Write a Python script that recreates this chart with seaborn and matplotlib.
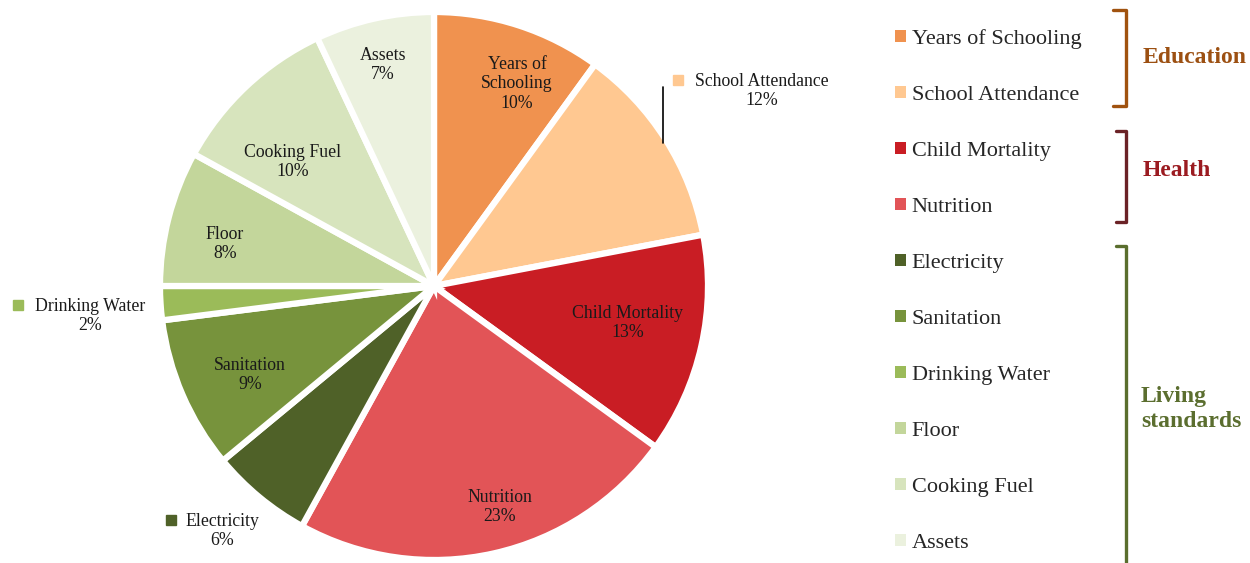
import matplotlib
matplotlib.use("Agg")
import matplotlib.pyplot as plt
import seaborn as sns
from matplotlib.patches import Patch
from matplotlib.lines import Line2D

sns.set_style("white")
plt.rcParams['font.family'] = ['Liberation Serif', 'DejaVu Serif']

# ---- data ----
categories = ["Years of Schooling", "School Attendance", "Child Mortality", "Nutrition",
              "Electricity", "Sanitation", "Drinking Water", "Floor", "Cooking Fuel", "Assets"]
values = [10, 12, 13, 23, 6, 9, 2, 8, 10, 7]
colors = ["#F0924F", "#FFC891", "#C91D24", "#E25457", "#4F6128",
          "#77933C", "#9BBB59", "#C3D69B", "#D7E4BD", "#EBF1DE"]
slice_labels = ["Years of\nSchooling", "School Attendance", "Child Mortality", "Nutrition",
                "Electricity", "Sanitation", "Drinking Water", "Floor", "Cooking Fuel", "Assets"]
groups = ["Education", "Health", "Living\nstandards"]
group_colors = ["#9C5012", "#9B1B21", "#5B6E2F"]
bracket_colors = ["#A0520F", "#6B2226", "#5A6E2E"]

W, H = 1250, 563
fig = plt.figure(figsize=(W / 100, H / 100), dpi=100)

cx, cy, R = 434, 286, 274
ax = fig.add_axes([(cx - R) / W, (H - cy - R) / H, 2 * R / W, 2 * R / H])
wedges, _ = ax.pie(values, colors=colors, startangle=90, counterclock=False, radius=1,
                   wedgeprops=dict(edgecolor="white", linewidth=4.5))
ax.set_xlim(-1, 1)
ax.set_ylim(-1, 1)
ax.axis("off")


def d(px, py):
    return (px - cx) / R, (cy - py) / R


fs = 12.8
# label positions (pixel coords of text centre)
inside = {0: (517, 84), 2: (628, 323), 3: (500, 507), 5: (250, 375),
          7: (225, 244), 8: (293, 162), 9: (383, 65)}
for i, (px, py) in inside.items():
    x, y = d(px, py)
    ax.text(x, y, f"{slice_labels[i]}\n{values[i]}%", ha="center", va="center",
            fontsize=fs, color="#1a1a1a", linespacing=1.22)

outside = {1: (762, 91, 678), 6: (90, 316, 18), 4: (222, 531, 171)}
for i, (px, py, sx) in outside.items():
    x, y = d(px, py)
    ax.text(x, y, f"{slice_labels[i]}\n{values[i]}%", ha="center", va="center",
            fontsize=fs, color="#1a1a1a", linespacing=1.22)
    mx, my = d(sx, py - 11)
    ax.plot([mx], [my], marker="s", markersize=7, color=colors[i], clip_on=False)

# leader line for School Attendance
x0, y0 = d(663, 87)
x1, y1 = d(663, 143)
ax.plot([x0, x1], [y0, y1], color="black", lw=1.2, clip_on=False)

# legend
handles = [Patch(facecolor=c, edgecolor="none") for c in colors]
fig.legend(handles, categories, loc="upper left", bbox_to_anchor=(895 / W, 1 - 29 / H),
           frameon=False, fontsize=16, handlelength=0.5, handleheight=0.5,
           handletextpad=0.25, labelspacing=1.655, borderpad=0, borderaxespad=0)

# brackets
def bracket(y_top, y_bot, x_in, x_out, color, bottom=True):
    pts_x = [x_in, x_out, x_out] + ([x_in] if bottom else [])
    pts_y = [y_top, y_top, y_bot] + ([y_bot] if bottom else [])
    fig.add_artist(Line2D([p / W for p in pts_x], [1 - p / H for p in pts_y],
                          color=color, lw=2.4, solid_joinstyle="round"))

bracket(10, 106, 1113, 1126, bracket_colors[0])
bracket(131, 222, 1116, 1126, bracket_colors[1])
bracket(246, 566, 1116, 1126, bracket_colors[2], bottom=False)

fig.text(1143 / W, 1 - 58 / H, groups[0], fontsize=17, fontweight="bold",
         color=group_colors[0], va="center", ha="left")
fig.text(1143 / W, 1 - 170 / H, groups[1], fontsize=17, fontweight="bold",
         color=group_colors[1], va="center", ha="left")
fig.text(1141 / W, 1 - 409 / H, groups[2], fontsize=17, fontweight="bold",
         color=group_colors[2], va="center", ha="left", linespacing=1.3)

fig.savefig("out.png", dpi=100, facecolor="white")
